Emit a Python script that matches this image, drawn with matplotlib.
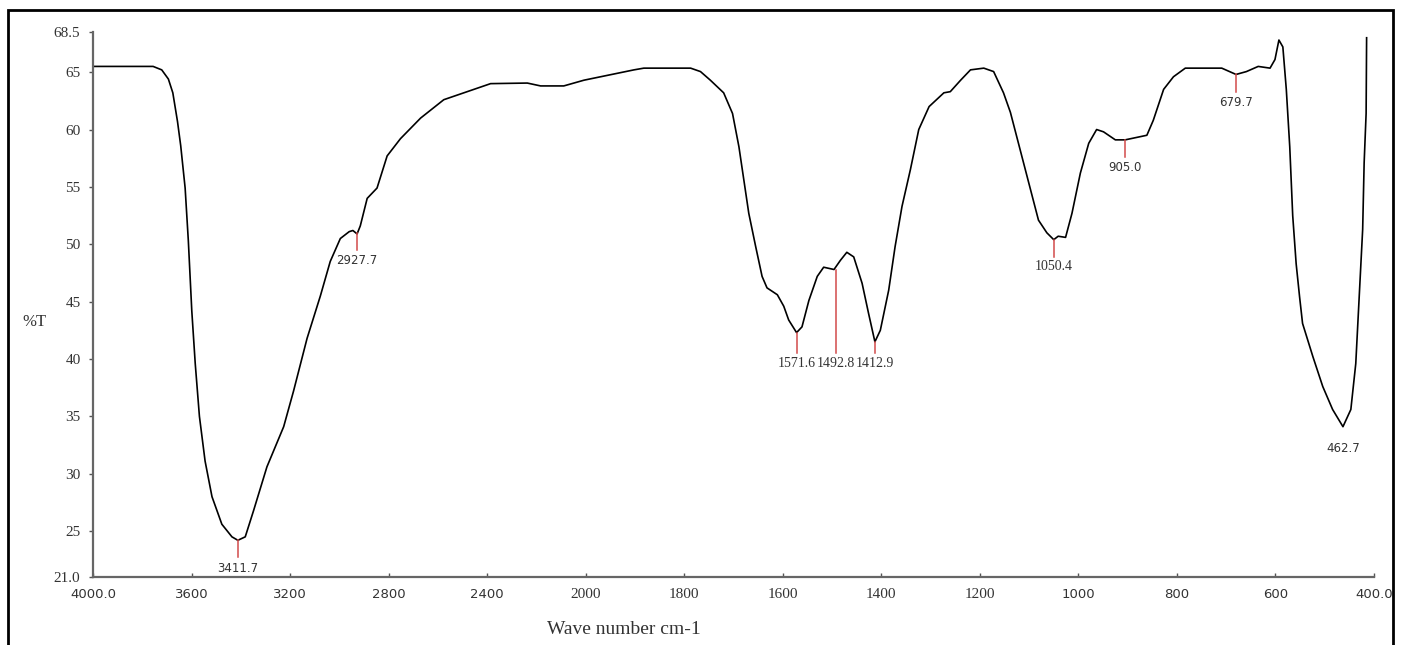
import numpy as np
import matplotlib.pyplot as plt
from matplotlib.patches import Rectangle

# FTIR spectrum (wavenumber cm-1, %T)
wavenumber = [4000, 3756, 3721, 3694, 3676, 3657, 3644, 3626, 3613, 3599,
              3585, 3568, 3545, 3517, 3477, 3436, 3412, 3382, 3348, 3294,
              3226, 3186, 3131, 3077, 3037, 2996, 2960, 2945, 2928, 2915,
              2887, 2847, 2806, 2752, 2670, 2576, 2481, 2386, 2237, 2183,
              2089, 2007, 1970, 1902, 1882, 1787, 1767, 1747, 1720, 1702,
              1689, 1679, 1669, 1655, 1642, 1632, 1611, 1598, 1588, 1572,
              1561, 1547, 1530, 1517, 1496, 1483, 1470, 1456, 1439, 1426,
              1413, 1402, 1385, 1372, 1358, 1341, 1324, 1303, 1273, 1260,
              1239, 1219, 1192, 1172, 1152, 1138, 1118, 1097, 1081, 1064,
              1050, 1041, 1026, 1013, 996, 979, 963, 949, 925, 905,
              861, 848, 827, 807, 783, 709, 680, 659, 635, 611,
              601, 593, 585, 578, 571, 565, 558, 551, 545, 524,
              504, 484, 463, 447, 437, 430, 423, 420, 416, 415]
transmittance = [65.5, 65.5, 65.2, 64.4, 63.2, 60.7, 58.6, 54.9, 50.3, 44.2,
                 39.6, 35.0, 31.1, 28.0, 25.6, 24.5, 24.2, 24.5, 26.8, 30.6,
                 34.1, 37.2, 41.8, 45.5, 48.5, 50.5, 51.1, 51.2, 50.9, 51.6,
                 54.0, 54.9, 57.7, 59.2, 61.0, 62.6, 63.3, 64.0, 64.05, 63.8,
                 63.8, 64.3, 64.6, 65.2, 65.35, 65.35, 65.05, 64.3, 63.2, 61.4,
                 58.5, 55.6, 52.7, 49.8, 47.2, 46.2, 45.6, 44.6, 43.4, 42.3,
                 42.8, 45.1, 47.2, 48.0, 47.8, 48.6, 49.3, 48.9, 46.6, 44.0,
                 41.5, 42.5, 46.0, 49.8, 53.3, 56.5, 60.0, 62.0, 63.2, 63.3,
                 64.3, 65.2, 65.35, 65.05, 63.2, 61.5, 58.2, 54.7, 52.1, 51.0,
                 50.4, 50.7, 50.6, 52.7, 56.2, 58.8, 60.0, 59.8, 59.1, 59.1,
                 59.5, 60.8, 63.5, 64.6, 65.35, 65.35, 64.8, 65.05, 65.5, 65.35,
                 66.1, 67.8, 67.2, 63.5, 58.5, 52.5, 48.3, 45.4, 43.1, 40.2,
                 37.6, 35.6, 34.1, 35.6, 39.6, 45.4, 51.3, 57.1, 61.4, 68.0]

peak_pos = [3411.7, 2927.7, 1571.6, 1492.8, 1412.9, 1050.4, 905.0, 679.7, 462.7]
peak_T = [24.2, 51.0, 42.3, 47.8, 41.5, 50.4, 59.1, 64.8, 34.1]
peak_labels = ['3411.7', '2927.7', '1571.6', '1492.8', '1412.9', '1050.4', '905.0', '679.7', '462.7']

xticks = [4000, 3600, 3200, 2800, 2400, 2000, 1800, 1600, 1400, 1200, 1000, 800, 600, 400]
xtick_labels = ['4000.0', '3600', '3200', '2800', '2400', '2000', '1800', '1600',
                '1400', '1200', '1000', '800', '600', '400.0']
yticks = [21.0, 25, 30, 35, 40, 45, 50, 55, 60, 65, 68.5]
ytick_labels = ['21.0', '25', '30', '35', '40', '45', '50', '55', '60', '65', '68.5']


# the x axis is compressed 2x above 2000 cm-1
def fwd(x):
    x = np.asarray(x, dtype=float)
    return np.where(x > 2000, 2000 + (x - 2000) / 2, x)


def inv(y):
    y = np.asarray(y, dtype=float)
    return np.where(y > 2000, 2000 + (y - 2000) * 2, y)


W, H = 1403, 645
fig = plt.figure(figsize=(W / 100, H / 100), dpi=100)
ax = fig.add_axes([93 / W, 1 - 577 / H, (1374 - 93) / W, (577 - 32) / H])

ax.plot(wavenumber, transmittance, color='black', lw=1.2)

ax.set_xscale('function', functions=(fwd, inv))
ax.set_xlim(4000, 400)
ax.set_ylim(21.0, 68.5)

serif = 'Liberation Serif'
sans = 'DejaVu Sans'
grey = '#333333'

ax.set_xticks(xticks)
ax.set_xticklabels(xtick_labels)
ax.set_yticks(yticks)
ax.set_yticklabels(ytick_labels)
for t, lab in zip(ax.get_xticklabels(), xtick_labels):
    if lab in ('2000', '1800', '1600', '1400', '1200'):
        t.set_fontfamily(serif)
        t.set_fontsize(11)
    else:
        t.set_fontfamily(sans)
        t.set_fontsize(9.5)
    t.set_color(grey)
for t in ax.get_yticklabels():
    t.set_fontfamily(serif)
    t.set_fontsize(11)
    t.set_color(grey)

ax.tick_params(axis='x', direction='in', length=3, width=1, color='#555555', pad=8)
ax.tick_params(axis='y', direction='out', length=3, width=1, color='#555555', pad=6)
for side in ('top', 'right'):
    ax.spines[side].set_visible(False)
for side in ('left', 'bottom'):
    ax.spines[side].set_color('#666666')
    ax.spines[side].set_linewidth(1.6)

# peak markers
line_drop = {1571.6: 1.8, 1492.8: 7.3, 1412.9: 1.0, 462.7: 0.0}
serif_peaks = (1571.6, 1492.8, 1412.9, 1050.4)
for x, y, lab in zip(peak_pos, peak_T, peak_labels):
    d = line_drop.get(x, 1.5)
    if d > 0:
        ax.plot([x, x], [y, y - d], color='#d24a4a', lw=1.1)
    if x in serif_peaks:
        ax.text(x, y - d - 0.3, lab, ha='center', va='top', fontsize=10,
                family=serif, color=grey)
    else:
        ax.text(x, y - d - (1.3 if d == 0 else 0.35), lab, ha='center', va='top',
                fontsize=8.5, family=sans, color=grey)

fig.text(22 / W, 1 - 322 / H, '%T', family=serif, fontsize=12, color=grey,
         ha='left', va='center')
fig.text(624 / W, 1 - 630 / H, 'Wave number cm-1', family=serif, fontsize=14,
         color=grey, ha='center', va='center')

# frame round the whole picture
fig.add_artist(Rectangle((8 / W, -0.05), (1393 - 8) / W, (H - 10) / H + 0.05,
                         transform=fig.transFigure, fill=False, lw=2, ec='black'))

fig.savefig('out.png', dpi=100)
